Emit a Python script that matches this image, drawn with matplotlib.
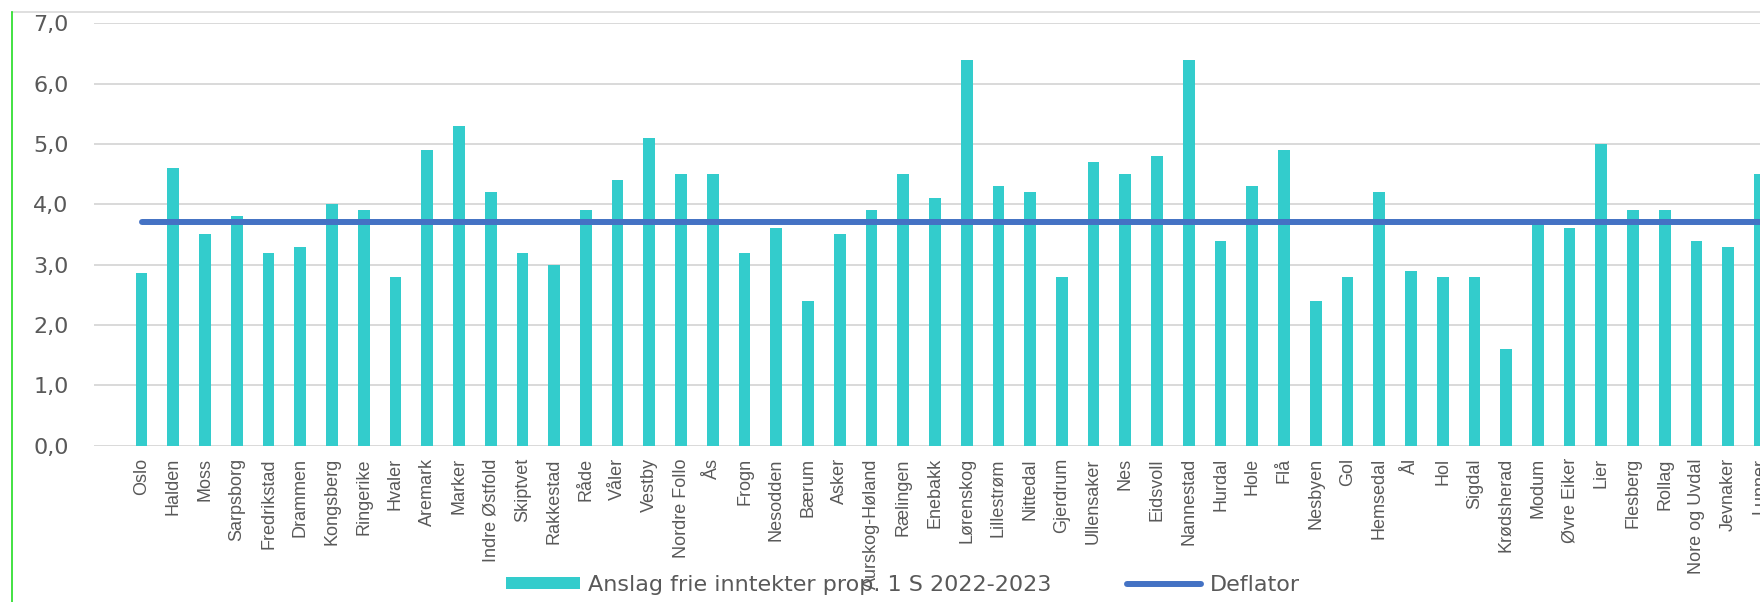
import matplotlib
matplotlib.use("Agg")
import matplotlib.pyplot as plt
from matplotlib.lines import Line2D
from matplotlib.patches import Patch

categories = ["Oslo", "Halden", "Moss", "Sarpsborg", "Fredrikstad", "Drammen", "Kongsberg",
              "Ringerike", "Hvaler", "Aremark", "Marker", "Indre Østfold", "Skiptvet",
              "Rakkestad", "Råde", "Våler", "Vestby", "Nordre Follo", "Ås", "Frogn",
              "Nesodden", "Bærum", "Asker", "Aurskog-Høland", "Rælingen", "Enebakk",
              "Lørenskog", "Lillestrøm", "Nittedal", "Gjerdrum", "Ullensaker", "Nes",
              "Eidsvoll", "Nannestad", "Hurdal", "Hole", "Flå", "Nesbyen", "Gol",
              "Hemsedal", "Ål", "Hol", "Sigdal", "Krødsherad", "Modum", "Øvre Eiker",
              "Lier", "Flesberg", "Rollag", "Nore og Uvdal", "Jevnaker", "Lunner"]

frie_inntekter = [2.87, 4.6, 3.5, 3.8, 3.2, 3.3, 4.0, 3.9, 2.8, 4.9, 5.3, 4.2, 3.2, 3.0, 3.9,
                  4.4, 5.1, 4.5, 4.5, 3.2, 3.6, 2.4, 3.5, 3.9, 4.5, 4.1, 6.4, 4.3, 4.2, 2.8,
                  4.7, 4.5, 4.8, 6.4, 3.4, 4.3, 4.9, 2.4, 2.8, 4.2, 2.9, 2.8, 2.8, 1.6, 3.7,
                  3.6, 5.0, 3.9, 3.9, 3.4, 3.3, 4.5]

deflator = [3.7] * len(categories)

y_ticks = [0, 1, 2, 3, 4, 5, 6, 7]
y_tick_labels = ["0,0", "1,0", "2,0", "3,0", "4,0", "5,0", "6,0", "7,0"]

series_labels = ["Anslag frie inntekter prop. 1 S 2022-2023", "Deflator"]

BAR_COLOR = "#33CCCC"
LINE_COLOR = "#4472C4"
TEXT_COLOR = "#595959"
GRID_COLOR = "#D9D9D9"

W, H = 1760, 602
fig = plt.figure(figsize=(W / 100, H / 100), dpi=100)
ax = fig.add_axes([93.7 / W, 1 - 445.7 / H, 1 - 93.7 / W, (445.7 - 23.3) / H])

x = list(range(len(categories)))
ax.bar(x, frie_inntekter, width=0.37, color=BAR_COLOR, zorder=2)
ax.plot(x, deflator, color=LINE_COLOR, lw=4.3, solid_capstyle="round", zorder=3)

ax.set_xlim(-1.51, 50.97)
ax.set_ylim(0, 7)
ax.set_yticks(y_ticks)
ax.set_yticklabels(y_tick_labels, fontsize=16, color=TEXT_COLOR, family="DejaVu Sans")
ax.set_xticks(x)
ax.set_xticklabels(categories, rotation=90, fontsize=13, color=TEXT_COLOR,
                   family="Liberation Sans", va="top", ha="center")
ax.tick_params(axis="y", length=0, pad=18)
ax.tick_params(axis="x", length=0, pad=9)
ax.yaxis.grid(True, color=GRID_COLOR, lw=1.4, zorder=0)
ax.set_axisbelow(True)
for s in ax.spines.values():
    s.set_visible(False)

handles = [Patch(facecolor=BAR_COLOR, edgecolor="none"),
           Line2D([0], [0], color=LINE_COLOR, lw=4.3, solid_capstyle="round")]
fig.legend(handles, series_labels, ncol=2, frameon=False, loc="center",
           bbox_to_anchor=(903 / W, 1 - 585 / H),
           prop={"family": "DejaVu Sans", "size": 16},
           labelcolor=TEXT_COLOR, handlelength=3.3, handleheight=0.45,
           handletextpad=0.4, columnspacing=3.4, borderpad=0)

# chart area borders
fig.add_artist(Line2D([12.3 / W, 1], [1 - 12 / H, 1 - 12 / H], color=GRID_COLOR, lw=1.2))
fig.add_artist(Line2D([12.3 / W, 12.3 / W], [0, 1 - 12 / H], color="#22DD22", lw=1.2))

fig.savefig("out.png", dpi=100)
